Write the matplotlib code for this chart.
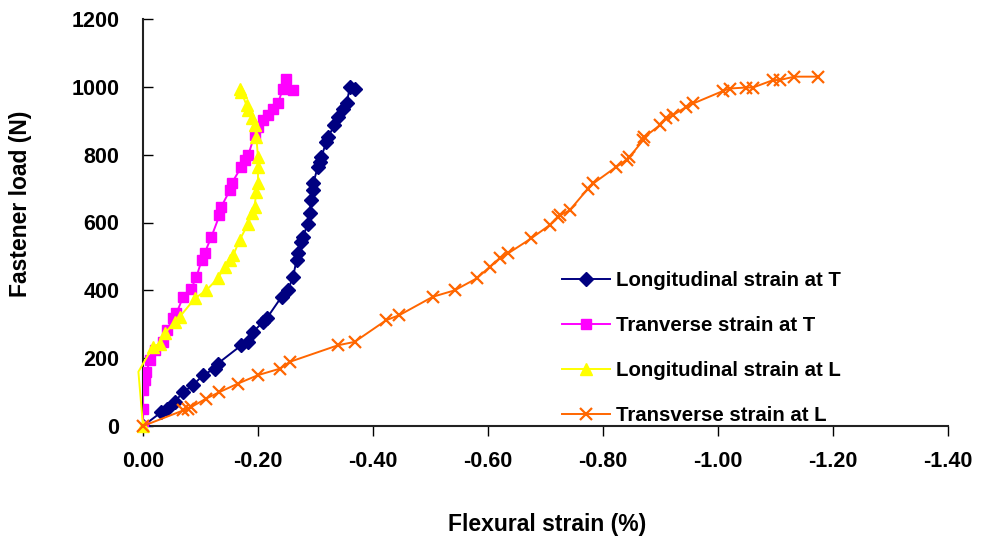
import matplotlib.pyplot as plt

plt.rcParams['font.family'] = ['Liberation Sans', 'DejaVu Sans']
plt.rcParams['font.weight'] = 'bold'

# data (strain in %, load in N)
long_T_x = [0, -0.032, -0.041, -0.055, -0.070, -0.087, -0.104, -0.125, -0.130, -0.171,
            -0.183, -0.191, -0.209, -0.215, -0.241, -0.252, -0.261, -0.267, -0.270, -0.275,
            -0.278, -0.287, -0.290, -0.292, -0.295, -0.296, -0.304, -0.307, -0.310, -0.319,
            -0.322, -0.333, -0.339, -0.348, -0.354, -0.360, -0.368]
long_T_y = [0, 41, 51, 71, 100, 120, 150, 169, 184, 238,
            248, 277, 307, 317, 381, 400, 440, 489, 509, 543,
            558, 597, 627, 666, 695, 715, 764, 779, 793, 838,
            853, 887, 912, 936, 951, 1000, 995]

tran_T_x = [0, 0, 0, -0.003, -0.006, -0.012, -0.020, -0.035, -0.041, -0.052,
            -0.058, -0.070, -0.084, -0.093, -0.102, -0.107, -0.119, -0.133, -0.136, -0.151,
            -0.154, -0.171, -0.177, -0.183, -0.194, -0.200, -0.209, -0.217, -0.226, -0.235,
            -0.243, -0.249, -0.261]
tran_T_y = [0, 51, 105, 135, 159, 194, 223, 248, 282, 317,
            332, 381, 405, 440, 489, 509, 558, 621, 646, 695,
            715, 764, 784, 798, 858, 882, 902, 917, 936, 951,
            995, 1022, 990]

long_L_x = [0, 0.008, -0.017, -0.029, -0.038, -0.055, -0.064, -0.090, -0.110, -0.130,
            -0.142, -0.151, -0.157, -0.168, -0.183, -0.189, -0.194, -0.197, -0.200, -0.200,
            -0.200, -0.197, -0.194, -0.189, -0.183, -0.180, -0.171, -0.168]
long_L_y = [0, 160, 233, 243, 273, 307, 322, 376, 400, 435,
            469, 489, 504, 548, 597, 627, 646, 690, 715, 764,
            793, 853, 887, 907, 931, 946, 985, 995]

tran_L_x = [0, -0.070, -0.078, -0.084, -0.110, -0.133, -0.165, -0.200, -0.238, -0.255,
            -0.339, -0.368, -0.423, -0.446, -0.504, -0.542, -0.580, -0.603, -0.620, -0.635,
            -0.675, -0.707, -0.722, -0.725, -0.742, -0.774, -0.783, -0.823, -0.841, -0.846,
            -0.870, -0.872, -0.899, -0.910, -0.922, -0.945, -0.957, -1.009, -1.020, -1.049,
            -1.061, -1.096, -1.107, -1.133, -1.174]
tran_L_y = [0, 46, 51, 56, 81, 100, 125, 150, 169, 189,
            238, 248, 312, 327, 381, 400, 435, 469, 494, 509,
            553, 592, 617, 621, 636, 700, 715, 764, 784, 793,
            843, 852, 887, 907, 917, 941, 951, 988, 995, 998,
            998, 1020, 1020, 1030, 1030]

x_ticks = [0, -0.2, -0.4, -0.6, -0.8, -1.0, -1.2, -1.4]
y_ticks = [0, 200, 400, 600, 800, 1000, 1200]

fig = plt.figure(figsize=(9.82, 5.45), dpi=100)
ax = fig.add_axes([143 / 982, 1 - 426 / 545, 805 / 982, 407 / 545])

ax.plot(long_T_x, long_T_y, color='#000080', marker='D', markersize=7.5, lw=1.4,
        label='Longitudinal strain at T', zorder=3)
ax.plot(tran_T_x, tran_T_y, color='#FF00FF', marker='s', markersize=7.5, lw=1.4,
        label='Tranverse strain at T', zorder=4)
# the point just left of the axis has no visible marker
ax.plot(long_L_x, long_L_y, color='#FFFF00', marker='^', markersize=9, lw=1.4,
        markevery=[0] + list(range(2, len(long_L_x))),
        label='Longitudinal strain at L', zorder=5, clip_on=False)
ax.plot(tran_L_x, tran_L_y, color='#FF6600', marker='x', markersize=9, mew=1.6, lw=1.4,
        label='Transverse strain at L', zorder=6, clip_on=False)

ax.set_xlim(0, -1.4)
ax.set_ylim(0, 1200)
ax.set_xticks(x_ticks)
ax.set_xticklabels(['%.2f' % v if v != 0 else '0.00' for v in x_ticks])
ax.set_yticks(y_ticks)

for s in ['top', 'right']:
    ax.spines[s].set_visible(False)
for s in ['left', 'bottom']:
    ax.spines[s].set_color('#222222')
    ax.spines[s].set_linewidth(1.5)

ax.tick_params(axis='x', direction='out', length=7, width=1, pad=11, labelsize=15.5)
ax.tick_params(axis='y', direction='in', length=7, width=1, pad=17, labelsize=15.5)
for lab in ax.get_xticklabels() + ax.get_yticklabels():
    lab.set_fontweight('bold')

ax.set_xlabel('Flexural strain (%)', fontsize=16.5, fontweight='bold')
ax.set_ylabel('Fastener load (N)', fontsize=16.5, fontweight='bold')
ax.xaxis.set_label_coords((547.5 - 143) / 805, (426 - 525) / 407)
ax.yaxis.set_label_coords((21 - 143) / 805, (426 - 204) / 407)
ax.xaxis.label.set_va('center')
ax.yaxis.label.set_va('center')

ax.legend(loc='upper left', bbox_to_anchor=(562 / 982, 1 - 271 / 545),
          bbox_transform=fig.transFigure, frameon=False, borderpad=0,
          borderaxespad=0, handlelength=2.35, handletextpad=0.3, labelspacing=1.27,
          prop={'size': 14.7, 'weight': 'bold'})

fig.savefig('out.png', dpi=100)
